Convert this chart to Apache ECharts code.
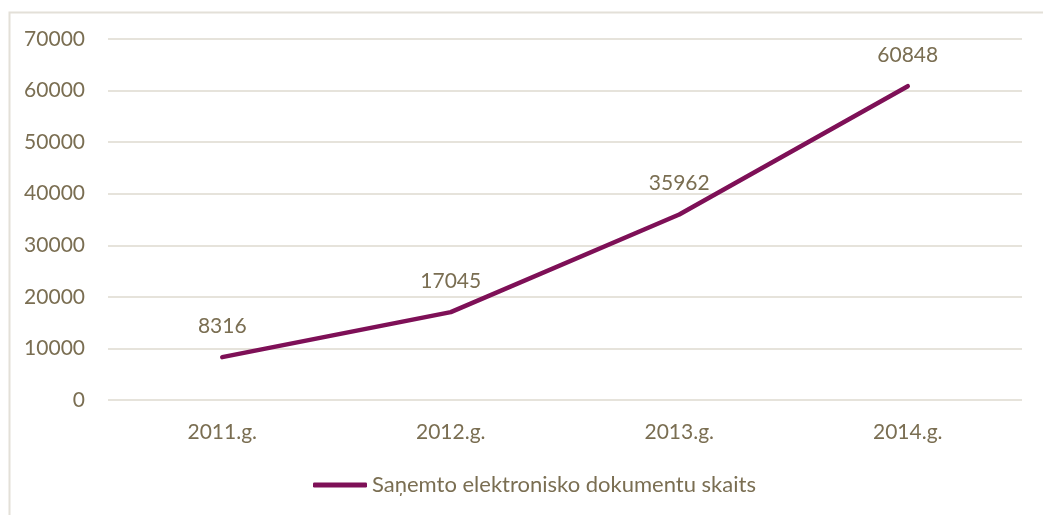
<!DOCTYPE html>
<html><head><meta charset="utf-8">
<script src="https://cdn.jsdelivr.net/npm/echarts@6/dist/echarts.min.js"></script>
<style>html,body{margin:0;padding:0;background:#fff}#c{width:1043px;height:515px}</style>
</head><body><div id="c"></div>
<script>
var categories = ["2011.g.", "2012.g.", "2013.g.", "2014.g."];
var values = [8316, 17045, 35962, 60848];
var seriesName = "Saņemto elektronisko dokumentu skaits";
var yTicks = [0, 10000, 20000, 30000, 40000, 50000, 60000, 70000];

var textColor = "#7A6E52";
var font = "Lato, 'Open Sans', sans-serif";
var fs = 21;
var chart = echarts.init(document.getElementById('c'), null, {renderer: 'canvas'});
chart.setOption({
  animation: false,
  graphic: [{type: 'rect', left: 7, top: 10, shape: {width: 1100, height: 600},
    style: {fill: 'none', stroke: '#E3E0D8', lineWidth: 2}, silent: true, z: -1}],
  grid: {left: 108, right: 21, top: 39, bottom: 115, containLabel: false},
  xAxis: {type: 'category', data: categories, boundaryGap: true,
    axisLine: {show: false}, axisTick: {show: false},
    axisLabel: {color: textColor, fontFamily: font, fontSize: fs, margin: 22}},
  yAxis: {type: 'value', min: yTicks[0], max: yTicks[yTicks.length-1], interval: 10000,
    axisLine: {show: false}, axisTick: {show: false},
    splitLine: {lineStyle: {color: '#E6E3DB', width: 2}},
    axisLabel: {color: textColor, fontFamily: font, fontSize: fs, margin: 23,
      formatter: function (v) { return String(v); }}},
  legend: {bottom: 14, left: 308, itemWidth: 54, itemHeight: 5, itemGap: 6,
    icon: 'roundRect',
    textStyle: {color: textColor, fontFamily: font, fontSize: 22},
    data: [{name: seriesName, itemStyle: {color: '#7E1057'}}]},
  series: [{type: 'line', name: seriesName, data: values, symbol: 'circle', symbolSize: 1,
    showSymbol: true,
    lineStyle: {color: '#7E1057', width: 4.5, cap: 'round', join: 'round'},
    itemStyle: {color: '#7E1057'},
    label: {show: true, position: 'top', distance: 20, color: textColor, fontFamily: font, fontSize: fs,
      formatter: function (p) { return String(p.value); }}}]
});
</script></body></html>
